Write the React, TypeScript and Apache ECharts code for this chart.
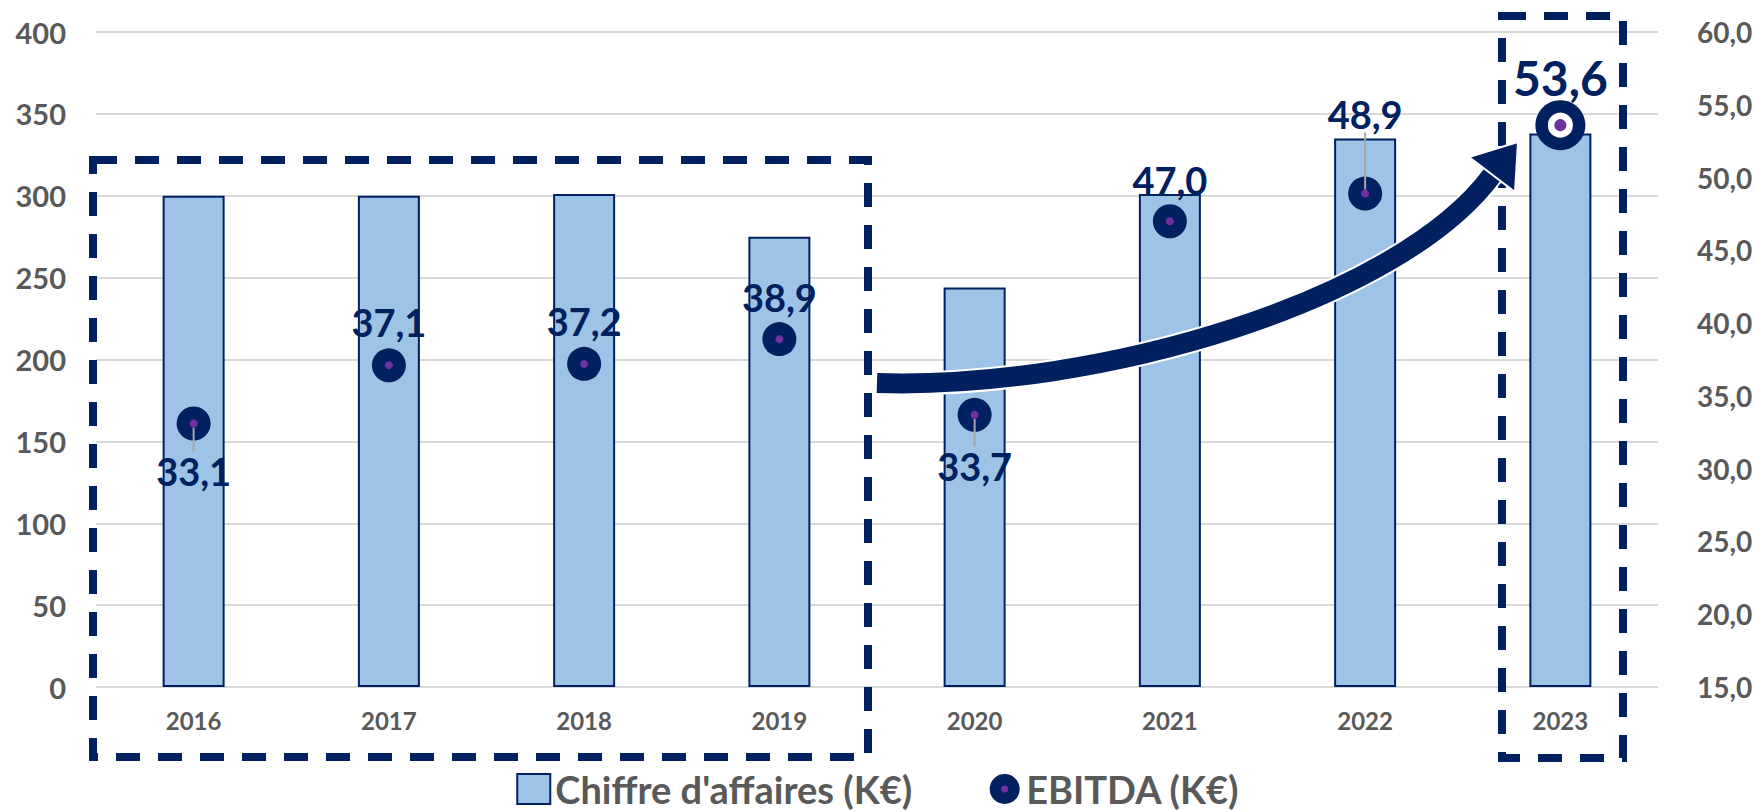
import React, { useEffect, useRef } from "react";
import * as echarts from "echarts";

const years = ["2016", "2017", "2018", "2019", "2020", "2021", "2022", "2023"];
const revenue = [300, 300, 301, 275, 244, 301, 335, 338];
const ebitda = [33.1, 37.1, 37.2, 38.9, 33.7, 47.0, 48.9, 53.6];
const leftAxis = { min: 0, max: 400, interval: 50 };
const rightAxis = { min: 15, max: 60, interval: 5 };
const revenueName = "Chiffre d'affaires (K€)";
const ebitdaName = "EBITDA (K€)";

// label styling (offsets in px from the point, leader line on/off)
const labelDy = [47, -43, -43, -42, 51, -41, -80, -48];
const labelLeader = [true, false, false, false, true, false, true, false];

const NAVY = "#002060";
const BLUE = "#9DC3E6";
const PURPLE = "#7030A0";
const GREY = "#595959";
const FONT = "Lato";

const fmt = (v: number) => v.toFixed(1).replace(".", ",");

const ebitdaIcon =
  "image://data:image/svg+xml;charset=utf-8," +
  encodeURIComponent(
    "<svg xmlns='http://www.w3.org/2000/svg' width='33' height='30' viewBox='0 0 33 30'>" +
      "<circle cx='16.5' cy='15' r='15' fill='" + NAVY + "'/>" +
      "<circle cx='16.5' cy='15' r='3.5' fill='" + PURPLE + "'/></svg>"
  );

export default function App() {
  const ref = useRef<HTMLDivElement>(null);
  useEffect(() => {
    if (!ref.current) return;
    const chart = echarts.init(ref.current, null, { renderer: "svg" });
    const last = ebitda.length - 1;
    chart.setOption({
      animation: false,
      textStyle: { fontFamily: FONT },
      grid: { left: 96, right: 98, top: 32, bottom: 125 },
      legend: {
        left: "center",
        top: 765,
        itemWidth: 33,
        itemHeight: 30,
        itemGap: 76,
        textStyle: { fontFamily: FONT, fontSize: 38, lineHeight: 38, fontWeight: "bold", color: GREY },
        data: [
          { name: revenueName, icon: "rect" },
          { name: ebitdaName, icon: ebitdaIcon },
        ],
      },
      xAxis: {
        type: "category",
        data: years,
        axisLine: { show: false },
        axisTick: { show: false },
        axisLabel: { fontFamily: FONT, fontSize: 24, fontWeight: "bold", color: GREY, margin: 21 },
      },
      yAxis: [
        {
          type: "value",
          ...leftAxis,
          axisLine: { show: false },
          axisTick: { show: false },
          axisLabel: { fontFamily: FONT, fontSize: 29, fontWeight: "bold", color: GREY, margin: 30 },
          splitLine: { lineStyle: { color: "#d9d9d9", width: 2 } },
        },
        {
          type: "value",
          ...rightAxis,
          position: "right",
          axisLine: { show: false },
          axisTick: { show: false },
          axisLabel: {
            fontFamily: FONT,
            fontSize: 28,
            fontWeight: "bold",
            color: GREY,
            margin: 39,
            formatter: (v: number) => fmt(v),
          },
          splitLine: { show: false },
        },
      ],
      series: [
        {
          name: revenueName,
          type: "bar",
          data: revenue,
          barWidth: 62,
          itemStyle: { color: BLUE, borderColor: NAVY, borderWidth: 2 },
        },
        {
          name: ebitdaName,
          type: "scatter",
          yAxisIndex: 1,
          data: ebitda.map((v, i) => ({ value: v, symbolSize: i === last ? 50 : 34 })),
          itemStyle: { color: NAVY, opacity: 1 },
          z: 3,
        },
        {
          name: "dot",
          type: "scatter",
          yAxisIndex: 1,
          z: 4,
          data: ebitda.map((v, i) =>
            i === last
              ? {
                  value: v,
                  symbolSize: 18.5,
                  itemStyle: { color: PURPLE, borderColor: "#ffffff", borderWidth: 6.5 },
                  label: { fontSize: 48 },
                  labelLine: { show: false },
                }
              : { value: v, symbolSize: 8, labelLine: { show: labelLeader[i] } }
          ),
          itemStyle: { color: PURPLE, opacity: 1 },
          label: {
            show: true,
            position: "inside",
            fontFamily: FONT,
            fontSize: 38,
            fontWeight: "bold",
            color: NAVY,
            formatter: (p: any) => fmt(p.value),
          },
          labelLine: { show: true, lineStyle: { color: "#a6a6a6", width: 2 } },
          labelLayout: (p: any) => ({ dy: labelDy[p.dataIndex] }),
        },
      ],
      graphic: [
        {
          type: "rect",
          z: 100,
          shape: { x: 93, y: 160, width: 775, height: 597 },
          style: { fill: "none", stroke: NAVY, lineWidth: 8, lineDash: [24, 18] },
        },
        {
          type: "rect",
          z: 100,
          shape: { x: 1502, y: 16, width: 121, height: 742 },
          style: { fill: "none", stroke: NAVY, lineWidth: 8, lineDash: [24, 18] },
        },
        {
          type: "bezierCurve",
          z: 101,
          shape: { x1: 877, y1: 383, x2: 1492, y2: 175, cpx1: 1100, cpy1: 390, cpx2: 1400, cpy2: 300 },
          style: { fill: "none", stroke: "#ffffff", lineWidth: 24 },
        },
        {
          type: "bezierCurve",
          z: 102,
          shape: { x1: 877, y1: 383, x2: 1492, y2: 175, cpx1: 1100, cpy1: 390, cpx2: 1400, cpy2: 300 },
          style: { fill: "none", stroke: NAVY, lineWidth: 20 },
        },
        {
          type: "polygon",
          z: 103,
          shape: { points: [[1518, 142], [1469, 157], [1515, 192]] },
          style: { fill: NAVY, stroke: "#ffffff", lineWidth: 2 },
        },
      ],
    });
    return () => chart.dispose();
  }, []);
  return (
    <div
      ref={ref}
      style={{ position: "fixed", left: 0, top: 0, width: 1756, height: 812, background: "#fff" }}
    />
  );
}
